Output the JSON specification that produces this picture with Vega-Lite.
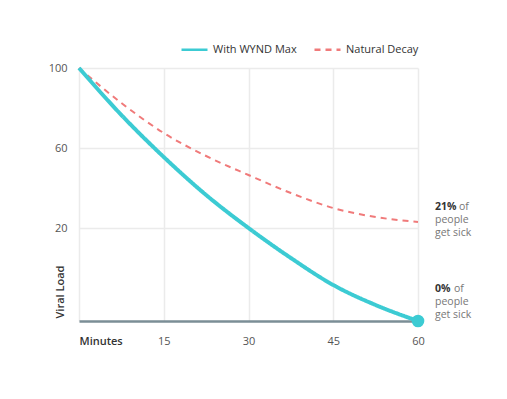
{
  "$schema": "https://vega.github.io/schema/vega-lite/v6.json",
  "width": 339,
  "height": 253,
  "autosize": {"type": "none"},
  "padding": {"left": 79, "top": 68, "right": 89, "bottom": 78},
  "background": "white",
  "config": {
    "font": "Open Sans",
    "view": {"stroke": null},
    "axis": {"gridColor": "#ebebeb", "gridWidth": 1.5, "labelFont": "Open Sans", "labelFontSize": 11, "labelColor": "#555555", "ticks": false},
    "legend": {"labelFont": "Open Sans", "labelFontSize": 11, "labelColor": "#333333"}
  },
  "datasets": {
    "curves": [
      {"minutes": 0, "load": 100, "series": "With WYND Max"},
      {"minutes": 7.5, "load": 76.5, "series": "With WYND Max"},
      {"minutes": 15, "load": 55.5, "series": "With WYND Max"},
      {"minutes": 22.5, "load": 36.5, "series": "With WYND Max"},
      {"minutes": 30, "load": 20, "series": "With WYND Max"},
      {"minutes": 37.5, "load": 5, "series": "With WYND Max"},
      {"minutes": 45, "load": -8.5, "series": "With WYND Max"},
      {"minutes": 52.5, "load": -18.5, "series": "With WYND Max"},
      {"minutes": 60, "load": -26.5, "series": "With WYND Max"},
      {"minutes": 0, "load": 100, "series": "Natural Decay"},
      {"minutes": 7.5, "load": 82.5, "series": "Natural Decay"},
      {"minutes": 15, "load": 67.5, "series": "Natural Decay"},
      {"minutes": 22.5, "load": 56, "series": "Natural Decay"},
      {"minutes": 30, "load": 46.5, "series": "Natural Decay"},
      {"minutes": 37.5, "load": 37.5, "series": "Natural Decay"},
      {"minutes": 45, "load": 30, "series": "Natural Decay"},
      {"minutes": 52.5, "load": 25.5, "series": "Natural Decay"},
      {"minutes": 60, "load": 23, "series": "Natural Decay"}
    ],
    "notes": [
      {"minutes": 60, "at": 30.5, "pct": "21%", "rest": ["people", "get sick"]},
      {"minutes": 60, "at": -10.5, "pct": "0%", "rest": ["people", "get sick"]}
    ]
  },
  "layer": [
    {
      "data": {"name": "curves"},
      "transform": [{"filter": "datum.series == 'Natural Decay'"}],
      "mark": {"type": "line", "interpolate": "monotone", "strokeWidth": 2},
      "encoding": {
        "x": {
          "field": "minutes", "type": "quantitative",
          "scale": {"domain": [0, 60], "nice": false},
          "axis": {
            "values": [0, 15, 30, 45, 60], "title": null, "grid": true,
            "domainColor": "#7b8e96", "domainWidth": 2.5,
            "labelPadding": 14,
            "labelExpr": "datum.value == 0 ? 'Minutes' : datum.label",
            "labelAlign": {"condition": {"test": "datum.value == 0", "value": "left"}, "value": "center"},
            "labelColor": {"condition": {"test": "datum.value == 0", "value": "#333333"}, "value": "#555555"},
            "labelFontWeight": {"condition": {"test": "datum.value == 0", "value": 600}, "value": 400}
          }
        },
        "y": {
          "field": "load", "type": "quantitative",
          "scale": {"domain": [-26.5, 100], "nice": false, "zero": false},
          "axis": {
            "values": [20, 60, 100], "grid": true, "domain": false,
            "labelPadding": 12,
            "title": "Viral Load", "titleX": -14, "titleY": 250, "titleAngle": -90,
            "titleAlign": "left", "titleBaseline": "bottom",
            "titleFont": "Open Sans", "titleFontSize": 11, "titleFontWeight": 600, "titleColor": "#333333"
          }
        },
        "color": {
          "field": "series", "type": "nominal",
          "scale": {"domain": ["With WYND Max", "Natural Decay"], "range": ["#3ccbd3", "#f07a7a"]},
          "legend": {
            "title": null, "orient": "none", "direction": "horizontal",
            "legendX": 101, "legendY": -33,
            "symbolType": "stroke", "symbolSize": 676, "symbolStrokeWidth": 2.5,
            "labelOffset": 4, "columnPadding": 12
          }
        },
        "strokeDash": {
          "field": "series", "type": "nominal",
          "scale": {"domain": ["With WYND Max", "Natural Decay"], "range": [[1, 0], [6, 5]]}
        }
      }
    },
    {
      "data": {"name": "curves"},
      "transform": [{"filter": "datum.series == 'With WYND Max'"}],
      "mark": {"type": "line", "interpolate": "monotone", "strokeWidth": 4},
      "encoding": {
        "x": {"field": "minutes", "type": "quantitative"},
        "y": {"field": "load", "type": "quantitative"},
        "color": {"field": "series", "type": "nominal"},
        "strokeDash": {"field": "series", "type": "nominal"}
      }
    },
    {
      "data": {"name": "curves"},
      "transform": [{"filter": "datum.minutes == 60 && datum.series == 'With WYND Max'"}],
      "mark": {"type": "circle", "size": 160, "opacity": 1, "color": "#3ccbd3"},
      "encoding": {
        "x": {"field": "minutes", "type": "quantitative"},
        "y": {"field": "load", "type": "quantitative"}
      }
    },
    {
      "data": {"name": "notes"},
      "mark": {"type": "text", "align": "left", "baseline": "middle", "dx": 17, "fontSize": 10.5, "fontWeight": 700, "color": "#333333"},
      "encoding": {
        "x": {"field": "minutes", "type": "quantitative"},
        "y": {"field": "at", "type": "quantitative"},
        "text": {"field": "pct"}
      }
    },
    {
      "data": {"name": "notes"},
      "transform": [{"filter": "datum.pct == '21%'"}],
      "mark": {"type": "text", "align": "left", "baseline": "middle", "dx": 41, "fontSize": 10.5, "color": "#777777"},
      "encoding": {
        "x": {"field": "minutes", "type": "quantitative"},
        "y": {"field": "at", "type": "quantitative"},
        "text": {"value": "of"}
      }
    },
    {
      "data": {"name": "notes"},
      "transform": [{"filter": "datum.pct == '0%'"}],
      "mark": {"type": "text", "align": "left", "baseline": "middle", "dx": 36, "fontSize": 10.5, "color": "#777777"},
      "encoding": {
        "x": {"field": "minutes", "type": "quantitative"},
        "y": {"field": "at", "type": "quantitative"},
        "text": {"value": "of"}
      }
    },
    {
      "data": {"name": "notes"},
      "mark": {"type": "text", "align": "left", "baseline": "middle", "dx": 17, "dy": 13, "lineHeight": 12.5, "fontSize": 10.5, "color": "#777777"},
      "encoding": {
        "x": {"field": "minutes", "type": "quantitative"},
        "y": {"field": "at", "type": "quantitative"},
        "text": {"field": "rest"}
      }
    }
  ]
}
